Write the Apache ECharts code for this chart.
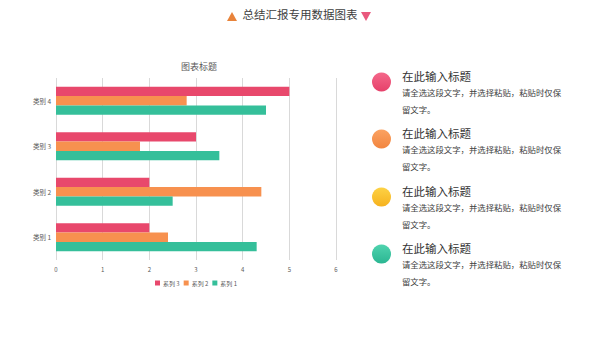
<!DOCTYPE html>
<html>
<head>
<meta charset="utf-8">
<script src="https://cdn.jsdelivr.net/npm/echarts@6/dist/echarts.min.js"></script>
<style>
html,body{margin:0;padding:0;background:#fff;}
#c{width:600px;height:338px;}
</style>
</head>
<body>
<div id="c"></div>
<script>
var categories = ['类别 1', '类别 2', '类别 3', '类别 4'];
var series1 = [4.3, 2.5, 3.5, 4.5];
var series2 = [2.4, 4.4, 1.8, 2.8];
var series3 = [2, 2, 3, 5];
var xTicks = [0, 1, 2, 3, 4, 5, 6];
var headerText = '总结汇报专用数据图表';
var chartTitle = '图表标题';
var itemTitles = ['在此输入标题', '在此输入标题', '在此输入标题', '在此输入标题'];
var itemLine1 = '请全选这段文字，并选择粘贴，粘贴时仅保';
var itemLine2 = '留文字。';

var FONT = '"Noto Sans CJK SC", "Noto Sans", sans-serif';
var circleColors = [
  ['#F4688A', '#E6416A'],
  ['#FBA262', '#F2853F'],
  ['#FDD245', '#F6B21E'],
  ['#4FD3AE', '#2BB692']
];

var chart = echarts.init(document.getElementById('c'), null, {renderer: 'svg'});

var graphics = [
  {type: 'polygon', shape: {points: [[227, 21], [237, 21], [232, 12]]}, style: {fill: '#E8833A'}},
  {type: 'text', left: 'center', top: 8, style: {text: headerText, font: '11.5px ' + FONT, fill: '#404040'}},
  {type: 'polygon', shape: {points: [[361, 12], [371, 12], [366, 21]]}, style: {fill: '#E9587D'}}
];
var ys = [82, 139, 197, 254];
for (var i = 0; i < 4; i++) {
  var y = ys[i];
  graphics.push({
    type: 'circle', shape: {cx: 381.5, cy: y, r: 9.5},
    style: {fill: new echarts.graphic.LinearGradient(0, 0, 0, 1, [
      {offset: 0, color: circleColors[i][0]}, {offset: 1, color: circleColors[i][1]}])}
  });
  graphics.push({type: 'text', x: 402, y: y - 12, style: {text: itemTitles[i], font: '11.5px ' + FONT, fill: '#333333'}});
  graphics.push({type: 'text', x: 402, y: y + 6, style: {text: itemLine1, font: '8.4px ' + FONT, fill: '#404040'}});
  graphics.push({type: 'text', x: 402, y: y + 23, style: {text: itemLine2, font: '8.4px ' + FONT, fill: '#404040'}});
}

var barCommon = {type: 'bar', barGap: '0%', barCategoryGap: '38%'};
chart.setOption({
  animation: false,
  textStyle: {fontFamily: FONT},
  title: {
    text: chartTitle, left: 194, top: 57, textAlign: 'center',
    textStyle: {fontSize: 9, fontWeight: 'normal', color: '#595959', fontFamily: FONT}
  },
  legend: {
    data: ['系列 3', '系列 2', '系列 1'],
    left: 150, top: 275,
    itemWidth: 5, itemHeight: 5, itemGap: 4,
    icon: 'rect',
    textStyle: {fontSize: 6, color: '#595959', fontFamily: FONT, padding: [0, 0, 0, -2]}
  },
  grid: {left: 56, right: 264, top: 78, bottom: 78, containLabel: false},
  xAxis: {
    type: 'value', min: xTicks[0], max: xTicks[xTicks.length - 1], interval: 1,
    axisLine: {show: false}, axisTick: {show: false},
    axisLabel: {fontSize: 6, color: '#595959', margin: 6},
    splitLine: {show: true, lineStyle: {color: '#D9D9D9', width: 1}}
  },
  yAxis: {
    type: 'category', data: categories,
    axisLine: {show: false}, axisTick: {show: false},
    axisLabel: {fontSize: 6.5, color: '#595959', margin: 5}
  },
  color: ['#E8486C', '#F7914F', '#35BF9A'],
  series: [
    Object.assign({name: '系列 3', data: series3, itemStyle: {color: '#E8486C'}}, barCommon),
    Object.assign({name: '系列 2', data: series2, itemStyle: {color: '#F7914F'}}, barCommon),
    Object.assign({name: '系列 1', data: series1, itemStyle: {color: '#35BF9A'}}, barCommon)
  ],
  graphic: graphics
});
</script>
</body>
</html>
